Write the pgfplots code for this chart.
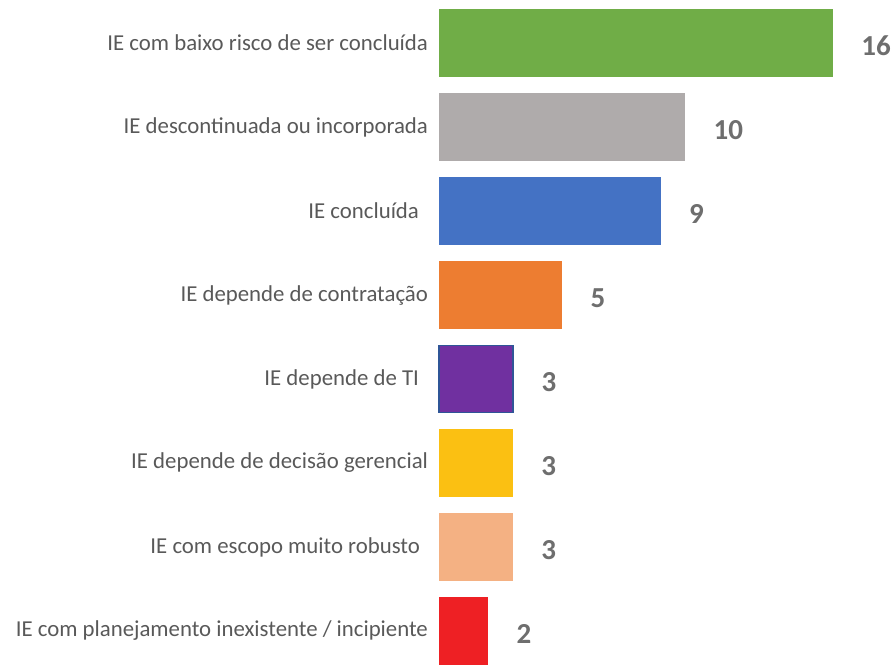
\documentclass[border=0pt]{standalone}
\usepackage{pgfplots}
\pgfplotsset{compat=1.18}
\usepackage{fontspec}
\setmainfont{Carlito}

\definecolor{cgreen}{HTML}{70AD47}
\definecolor{cgray}{HTML}{AFABAB}
\definecolor{cblue}{HTML}{4472C4}
\definecolor{corange}{HTML}{ED7D31}
\definecolor{cpurple}{HTML}{7030A0}
\definecolor{cpurpleedge}{HTML}{2F5597}
\definecolor{cyellow}{HTML}{FBC012}
\definecolor{cpeach}{HTML}{F4B183}
\definecolor{cred}{HTML}{EE2024}
\definecolor{labelgray}{HTML}{595959}
\definecolor{valgray}{HTML}{6E6E6E}

\begin{document}
\begin{tikzpicture}
\begin{axis}[
  at={(219.5pt,0pt)}, anchor=south west,
  scale only axis, width=228.5pt, height=334pt,
  xbar, bar shift=0pt, bar width=0.8,
  xmin=0, xmax=18.56,
  ymin=-0.512, ymax=7.44, y dir=reverse,
  axis line style={draw=none},
  xtick=\empty,
  ytick={0,1,2,3,4,5,6,7},
  yticklabels={
    IE com baixo risco de ser concluída,
    IE descontinuada ou incorporada,
    IE concluída\rule{4.5pt}{0pt},
    IE depende de contratação,
    IE depende de TI\rule{4.5pt}{0pt},
    IE depende de decisão gerencial,
    IE com escopo muito robusto\rule{4pt}{0pt},
    IE com planejamento inexistente / incipiente},
  major tick length=0pt,
  yticklabel style={font=\fontsize{11.4}{13}\selectfont, text=labelgray, anchor=east, xshift=-2pt},
  /pgf/number format/assume math mode=true,
  nodes near coords,
  nodes near coords style={anchor=west, inner sep=0pt, xshift=14pt, yshift=-1.5pt,
    font=\fontsize{14.5}{16}\selectfont\bfseries, text=valgray},
  clip=false,
]
\addplot[fill=cgreen, draw=none] coordinates {(16,0)};
\addplot[fill=cgray, draw=none] coordinates {(10,1)};
\addplot[fill=cblue, draw=none] coordinates {(9,2)};
\addplot[fill=corange, draw=none] coordinates {(5,3)};
\addplot[fill=cpurple, draw=cpurpleedge, line width=0.8pt] coordinates {(3,4)};
\addplot[fill=cyellow, draw=none] coordinates {(3,5)};
\addplot[fill=cpeach, draw=none] coordinates {(3,6)};
\addplot[fill=cred, draw=none] coordinates {(2,7)};
\end{axis}
\pgfresetboundingbox
\path (0pt,0pt) rectangle (448pt,334pt);
\end{tikzpicture}
\end{document}
